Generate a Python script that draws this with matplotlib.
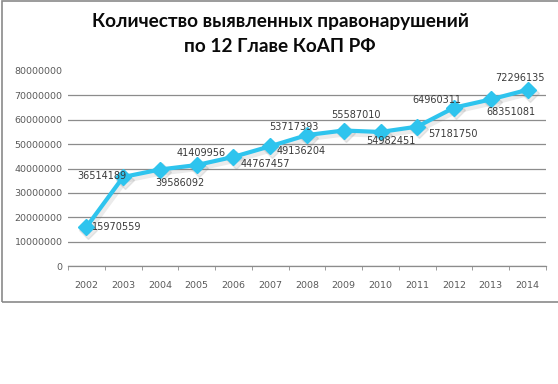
import matplotlib
matplotlib.use("Agg")
import matplotlib.pyplot as plt
import matplotlib.transforms as mtransforms
from matplotlib.patches import Rectangle

## chart data
years = ['2002', '2003', '2004', '2005', '2006', '2007', '2008',
         '2009', '2010', '2011', '2012', '2013', '2014']
cases = [15970559, 36514189, 39586092, 41409956, 44767457, 49136204, 53717393,
         55587010, 54982451, 57181750, 64960311, 68351081, 72296135]
y_ticks = [0, 10000000, 20000000, 30000000, 40000000,
           50000000, 60000000, 70000000, 80000000]

## where each data label sits relative to its point (pixels, +y is up)
label_offsets = [(30, 0), (-21, 1), (20, -13), (4, 12), (32, -7), (31, -5), (-13, 8),
                 (12, 16), (10, -9), (36, -7), (-17, 8), (20, -13), (-8, 12)]

line_col = '#2EC4EE'
grid_col = '#8C8C8C'

fig = plt.figure(figsize=(5.58, 3.84), dpi=100)
W, H = 558, 384

## outer chart frame (right edge runs off the picture)
fig.patches.append(Rectangle((2 / W, 1 - 302 / H), 570 / W, 301 / H,
                             transform=fig.transFigure, fill=False,
                             edgecolor='#8A8A8A', linewidth=1.2))

ax = fig.add_axes([68 / W, 1 - 266 / H, (546 - 68) / W, (266 - 71) / H])
x = list(range(len(years)))

## soft shadow under the line
shadow = mtransforms.offset_copy(ax.transData, fig=fig, x=1.5, y=-2, units='points')
ax.plot(x, cases, color='#7A7A7A', alpha=0.15, linewidth=4.5, marker='D',
        markersize=9, transform=shadow, zorder=2)
ax.plot(x, cases, color=line_col, linewidth=3, marker='D', markersize=8,
        markeredgecolor=line_col, zorder=3)

for xi, v, (dx, dy) in zip(x, cases, label_offsets):
    ax.annotate(str(v), (xi, v), xytext=(dx * 0.72, dy * 0.72),
                textcoords='offset points', ha='center', va='center',
                fontsize=7, color='#3A3A3A', zorder=4)

ax.set_xlim(-0.5, len(years) - 0.5)
ax.set_ylim(0, 80000000)
ax.set_yticks(y_ticks)
ax.set_yticklabels([str(t) for t in y_ticks])
ax.set_xticks(x)
ax.set_xticklabels(years)
ax.set_xticks([i - 0.5 for i in range(len(years) + 1)], minor=True)

ax.grid(axis='y', color=grid_col, linewidth=0.9)
ax.yaxis.get_gridlines()[-1].set_visible(False)
ax.set_axisbelow(True)

for s in ['top', 'right', 'left']:
    ax.spines[s].set_visible(False)
ax.spines['bottom'].set_color(grid_col)
ax.spines['bottom'].set_linewidth(0.9)

ax.tick_params(axis='y', length=0, pad=4, labelsize=6.8, labelcolor='#5A5A5A')
ax.tick_params(axis='x', which='major', length=0, pad=11, labelsize=6.8,
               labelcolor='#5A5A5A')
ax.tick_params(axis='x', which='minor', length=3, color=grid_col, direction='out')

## two-line title
fig.text(280 / W, 1 - 22 / H, 'Количество выявленных правонарушений',
         ha='center', va='center', fontsize=13.7, fontweight='bold',
         family='Lato', color='#0A0A0A')
fig.text(280 / W, 1 - 46 / H, 'по 12 Главе КоАП РФ',
         ha='center', va='center', fontsize=13.7, fontweight='bold',
         family='Lato', color='#0A0A0A')

plt.savefig('out.png', dpi=100)
plt.close()
